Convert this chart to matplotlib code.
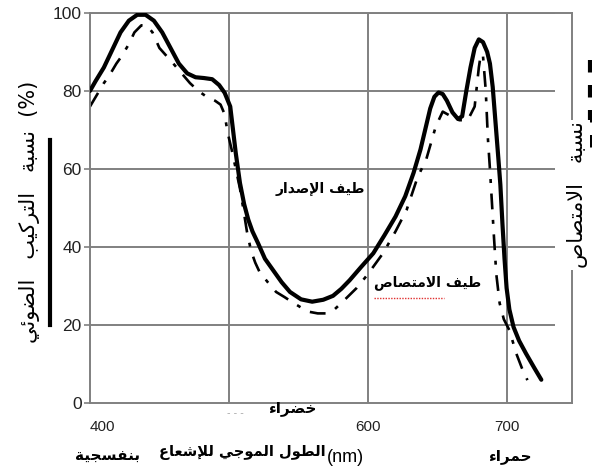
import matplotlib
matplotlib.use("Agg")
import matplotlib.pyplot as plt

# --- data (wavelength nm, percent) ---
emission_x = [400, 404, 410, 416, 422, 428, 434, 440, 446, 452, 458, 464, 470, 476,
              482, 488, 493, 497, 501, 503, 505, 508, 511, 514, 517, 521, 526, 532,
              538, 544, 552, 560, 568, 575, 581, 587, 595, 604, 612, 620, 627, 633,
              638, 642, 645, 648, 651, 654, 657, 661, 665, 668, 671, 674, 677, 680,
              683, 686, 688, 690, 692, 694, 695.5, 697, 698.5, 700, 702, 705, 709,
              714, 720, 725]
emission_y = [80, 82.5, 86, 90.5, 95, 98, 99.5, 99.5, 98, 95, 91, 87, 84.5, 83.5,
              83.3, 83, 81.5, 79.5, 76, 70, 64, 56.4, 51, 47, 44, 41, 37, 34,
              31, 28.5, 26.6, 26, 26.5, 27.5, 29.3, 31.5, 34.8, 38.4, 43, 47.8, 53, 59,
              65, 71, 75.5, 78.5, 79.6, 79.2, 77.5, 74.5, 72.8, 73.5, 80, 86, 91, 93.2,
              92.5, 90, 87, 81, 72, 63, 56, 46, 37, 29.5, 24, 19.5, 16,
              12.7, 9, 6]

absorb_x = [400, 405, 410, 414, 419, 423, 428, 432, 437, 441, 445, 450, 455, 460,
            466, 472, 478, 484, 490, 494, 497, 499, 502, 505, 508, 511, 513, 516,
            519, 522, 528, 534, 540, 546, 552, 558, 564, 570, 576, 582, 592, 600,
            611, 620, 628, 636, 642, 649, 654, 660, 666, 672, 677, 678.5, 680, 681.5,
            683, 685, 686.5, 688, 689.5, 691, 692.6, 695, 698, 702, 707, 711, 715]
absorb_y = [76, 79, 82, 84, 87, 89, 92, 95, 96.8, 96.8, 95, 91, 89, 87,
            84.5, 82, 80, 78.5, 77.5, 76.5, 74, 69.5, 65, 60, 55, 48.5, 44, 39,
            36, 33.7, 31, 28.5, 27.2, 25.8, 24.5, 23.4, 23, 23, 24, 26, 29.5, 33,
            38.4, 44, 49.5, 58, 62.3, 70.9, 74.7, 73.5, 72.5, 72.5, 76, 81, 86, 89.5,
            89, 80, 68, 60, 51, 42, 33, 25.6, 21.5, 18.7, 12.7, 9, 5.9]

x_ticks = [400, 500, 600, 700]
x_tick_labels = ["400", "", "600", "700"]
y_ticks = [0, 20, 40, 60, 80, 100]

# --- tiny arabic shaper (matplotlib has no bidi / joining) ---
_DUAL = {"ئ": 0xFE89, "ب": 0xFE8F, "ت": 0xFE95, "ث": 0xFE99, "ج": 0xFE9D,
         "ح": 0xFEA1, "خ": 0xFEA5, "س": 0xFEB1, "ش": 0xFEB5, "ص": 0xFEB9,
         "ض": 0xFEBD, "ط": 0xFEC1, "ظ": 0xFEC5, "ع": 0xFEC9, "غ": 0xFECD,
         "ف": 0xFED1, "ق": 0xFED5, "ك": 0xFED9, "ل": 0xFEDD, "م": 0xFEE1,
         "ن": 0xFEE5, "ه": 0xFEE9, "ي": 0xFEF1}
_RIGHT = {"آ": 0xFE81, "أ": 0xFE83, "ؤ": 0xFE85, "إ": 0xFE87, "ا": 0xFE8D,
          "ة": 0xFE93, "د": 0xFEA9, "ذ": 0xFEAB, "ر": 0xFEAD, "ز": 0xFEAF,
          "و": 0xFEED, "ى": 0xFEEF}
_LAMALEF = {"آ": 0xFEF5, "أ": 0xFEF7, "إ": 0xFEF9, "ا": 0xFEFB}


def ar(text):
    # merge lam + alef into one token
    toks = []
    i = 0
    while i < len(text):
        c = text[i]
        if c == "ل" and i + 1 < len(text) and text[i + 1] in _LAMALEF:
            toks.append(("LA", text[i + 1]))
            i += 2
        else:
            toks.append((c, None))
            i += 1

    def joins(t):
        return t[0] == "LA" or t[0] in _DUAL or t[0] in _RIGHT

    out = []
    for k, t in enumerate(toks):
        prev = toks[k - 1] if k > 0 else None
        nxt = toks[k + 1] if k + 1 < len(toks) else None
        jp = prev is not None and prev[0] in _DUAL and joins(t)
        if t[0] == "LA":
            out.append(chr(_LAMALEF[t[1]] + (1 if jp else 0)))
        elif t[0] in _DUAL:
            jn = nxt is not None and joins(nxt)
            form = (3 if jn else 1) if jp else (2 if jn else 0)
            out.append(chr(_DUAL[t[0]] + form))
        elif t[0] in _RIGHT:
            out.append(chr(_RIGHT[t[0]] + (1 if jp else 0)))
        elif t[0] == "ء":
            out.append(chr(0xFE80))
        else:
            out.append(t[0])
    return "".join(out)[::-1]


plt.rcParams["font.family"] = ["DejaVu Sans"]
num_font = "Liberation Sans"

fig = plt.figure(figsize=(5.92, 4.76), dpi=100)
ax = fig.add_axes([0.152, 0.153, 0.814, 0.820])

grid_c = "#808080"
for v in [500, 600, 700]:
    ax.axvline(v, color=grid_c, lw=1.4, zorder=1)
ax.hlines([20, 40, 60, 80, 100], 400, 735, color=grid_c, lw=1.4, zorder=1)

ax.plot(emission_x, emission_y, color="black", lw=3.0, zorder=3,
        solid_capstyle="round", solid_joinstyle="round")
ax.plot(absorb_x, absorb_y, color="black", lw=1.9, zorder=2,
        dashes=(6, 4, 1.5, 4))

ax.set_xlim(400, 747)
ax.set_ylim(0, 100)
ax.set_xticks(x_ticks)
ax.set_xticklabels(x_tick_labels, family=num_font, fontsize=11)
ax.get_xticklabels()[0].set_horizontalalignment("left")
ax.set_yticks(y_ticks)
ax.set_yticklabels([str(v) for v in y_ticks], family=num_font, fontsize=12.5)
ax.tick_params(axis="x", length=0, pad=12, colors="#222222")
ax.tick_params(axis="y", length=4, width=1.2, pad=2, colors="#222222")
ax.tick_params(axis="y", color=grid_c)
for s in ax.spines.values():
    s.set_color(grid_c)
    s.set_linewidth(1.4)

ax.text(566, 55, ar("طيف الإصدار"), ha="center", va="center",
        fontsize=10, fontweight="bold", zorder=4)
ax.text(643, 31, ar("طيف الامتصاص"), ha="center", va="center",
        fontsize=10, fontweight="bold", zorder=4)
# red spell-check squiggle under the word in the scan
ax.plot([0.59, 0.735], [0.27, 0.27], transform=ax.transAxes, color="#e03030",
        lw=1.0, ls=(0, (1, 1)), zorder=4)

# axis titles
left_title = "   ".join(ar(w) for w in ["الضوئي", "التركيب", "نسبة"]) + "  (%)"
fig.text(30 / 592, 1 - 212 / 476, left_title, rotation=90,
         ha="center", va="center", fontsize=15)
right_title = "   ".join(ar(w) for w in ["الامتصاص", "نسبة"])
fig.text(578 / 592, 1 - 195 / 476, right_title, rotation=90,
         ha="center", va="center", fontsize=15,
         bbox=dict(facecolor="white", edgecolor="none", pad=1))

# legend strokes beside the titles
fig.add_artist(plt.Line2D([50 / 592, 50 / 592], [1 - 140 / 476, 1 - 325 / 476],
                          color="black", lw=3.0))
fig.add_artist(plt.Line2D([590 / 592, 590 / 592], [1 - 60 / 476, 1 - 160 / 476],
                          color="black", lw=3.0, dashes=(3, 3)))

fig.text(292 / 592, 1 - 408 / 476, ar("خضراء"), ha="center", va="center",
         fontsize=11, fontweight="bold")
fig.text(235 / 592, 1 - 413 / 476, "- - -", ha="center", va="center",
         fontsize=7, color="#aaaaaa")
fig.text(107 / 592, 1 - 456 / 476, ar("بنفسجية"), ha="center", va="center",
         fontsize=11, fontweight="bold")
fig.text(242 / 592, 1 - 453 / 476, ar("الطول الموجي للإشعاع"), ha="center",
         va="center", fontsize=10.5, fontweight="bold")
fig.text(345 / 592, 1 - 458 / 476, "(nm)", ha="center", va="center",
         fontsize=13, family=num_font)
fig.text(510 / 592, 1 - 456 / 476, ar("حمراء"), ha="center", va="center",
         fontsize=11, fontweight="bold")

fig.savefig("out.png", dpi=100)
